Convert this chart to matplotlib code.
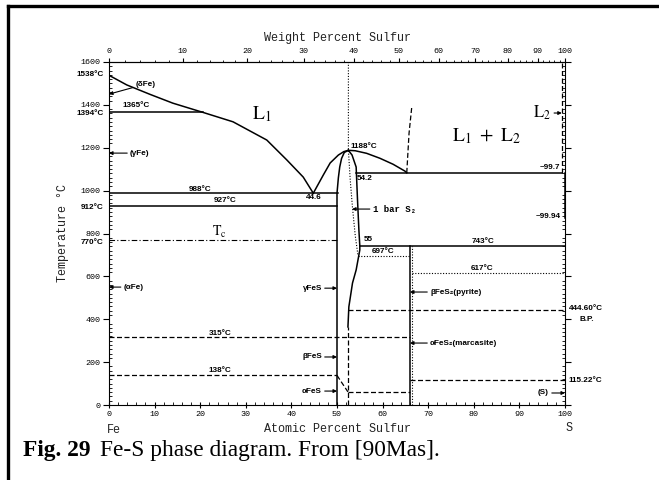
import numpy as np
import matplotlib.pyplot as plt
from matplotlib.lines import Line2D
from matplotlib.ticker import MultipleLocator

plt.rcParams['mathtext.fontset'] = 'stix'

# composition in atomic % S, temperature in degC
liq_fe_x = [0, 3.9, 9.0, 14.0, 20.6, 27.2, 34.6, 39.0, 42.6, 44.8]
liq_fe_t = [1538, 1493, 1449, 1408, 1365, 1321, 1236, 1143, 1063, 988]
liq_fesl_x = [44.8, 47.0, 48.5, 50.3, 51.5, 52.5]
liq_fesl_t = [988, 1073, 1129, 1166, 1182, 1188]
liq_fesr_x = [52.5, 54.0, 56.5, 59.4, 62.3, 64.9, 65.3]
liq_fesr_t = [1188, 1186, 1174, 1151, 1123, 1091, 1083]
fes_left_x = [50.0, 50.0, 50.3, 50.6, 51.0, 51.6, 52.5]
fes_left_t = [0, 988, 1060, 1110, 1150, 1178, 1188]
fes_right_x = [52.5, 53.3, 54.2, 54.5, 54.8, 55.0, 55.0, 54.2, 53.4, 52.6, 52.4]
fes_right_t = [1188, 1166, 1110, 956, 816, 743, 723, 630, 569, 458, 364]
bar_x = [52.5, 52.5, 52.9, 53.4, 54.0, 54.6]
bar_t = [1600, 1188, 1050, 920, 790, 697]
gap_x = [65.3, 65.5, 65.8, 66.4]
gap_t = [1083, 1158, 1268, 1391]

# horizontal invariants: temperature, from, to, style
iso_t = [1365, 988, 927, 1083, 743, 770, 315, 138, 61, 444.6, 115.22, 697, 617]
iso_x0 = [0, 0, 0, 54.2, 55, 0, 0, 0, 52.4, 52.4, 66, 54.6, 66.5]
iso_x1 = [20.6, 50.2, 50, 99.3, 100, 50, 66, 50, 66, 100, 100, 66, 100]
iso_ls = ['-', '-', '-', '-', '-', '-.', '--', '--', '--', '--', '--', ':', ':']

# vertical lines: x, from, to, style
vert_x = [66.0, 66.5, 52.4, 99.3, 99.9]
vert_t0 = [0, 0, 0, 1083, 870]
vert_t1 = [743, 743, 364, 1600, 1083]
vert_ls = ['-', ':', '--', '--', '-']

diag_x = [50, 52.4]
diag_t = [138, 61]


def at2wt(a):
    a = np.clip(np.asarray(a, float), 0, 100)
    return 100 * a * 32.06 / (a * 32.06 + (100 - a) * 55.845)


def wt2at(w):
    w = np.clip(np.asarray(w, float), 0, 100)
    return 100 * (w / 32.06) / (w / 32.06 + (100 - w) / 55.845)


fig = plt.figure(figsize=(6.59, 4.8), dpi=100)
ax = fig.add_axes([109 / 659, 1 - 405 / 480, 456 / 659, 343 / 480])
ax.set_xlim(0, 100)
ax.set_ylim(0, 1600)

dash = {'-': dict(ls='-', lw=1.1), '--': dict(ls=(0, (4, 2)), lw=0.9),
        ':': dict(ls=(0, (1, 1.5)), lw=0.8), '-.': dict(ls=(0, (5, 2, 1, 2)), lw=0.8)}

for xs, ts in [(liq_fe_x, liq_fe_t), (liq_fesl_x, liq_fesl_t), (liq_fesr_x, liq_fesr_t),
               (fes_left_x, fes_left_t), (fes_right_x, fes_right_t)]:
    ax.plot(xs, ts, color='black', lw=1.1)
ax.plot(bar_x, bar_t, color='black', **dash[':'])
ax.plot(gap_x, gap_t, color='black', **dash['--'])
ax.plot(diag_x, diag_t, color='black', **dash['--'])
for t, x0, x1, s in zip(iso_t, iso_x0, iso_x1, iso_ls):
    ax.plot([x0, x1], [t, t], color='black', **dash[s])
for x, t0, t1, s in zip(vert_x, vert_t0, vert_t1, vert_ls):
    ax.plot([x, x], [t0, t1], color='black', **dash[s])

# axes / ticks
for sp in ax.spines.values():
    sp.set_linewidth(0.8)
ax.xaxis.set_major_locator(MultipleLocator(10))
ax.xaxis.set_minor_locator(MultipleLocator(2))
ax.yaxis.set_major_locator(MultipleLocator(200))
ax.yaxis.set_minor_locator(MultipleLocator(20))
ax.tick_params(which='major', direction='inout', length=5, width=0.8,
               labelsize=6, pad=2, right=True)
ax.tick_params(which='minor', direction='in', length=2, width=0.6, right=True)
ax.tick_params(axis='y', which='major', direction='out', length=4)
for lab in ax.get_xticklabels() + ax.get_yticklabels():
    lab.set_family('Liberation Mono')

secax = ax.secondary_xaxis('top', functions=(at2wt, wt2at))
secax.set_xticks(np.arange(0, 101, 10))
secax.set_xticks(np.arange(0, 101, 2), minor=True)
secax.tick_params(which='major', direction='out', length=3, width=0.8, labelsize=6, pad=2)
secax.tick_params(which='minor', direction='out', length=1.5, width=0.6)
secax.spines['top'].set_linewidth(0.8)
for lab in secax.get_xticklabels():
    lab.set_family('Liberation Mono')

mono = dict(family='Liberation Mono', fontsize=8.5, color='#222222')
ax.text(0.5, 1 + (62 - 38) / 343, 'Weight Percent Sulfur', transform=ax.transAxes,
        ha='center', va='center', **mono)
ax.text(0.5, -(429 - 405) / 343, 'Atomic Percent Sulfur', transform=ax.transAxes,
        ha='center', va='center', **mono)
ax.text(-(109 - 63) / 456, 0.5, 'Temperature °C', transform=ax.transAxes, rotation=90,
        ha='center', va='center', **mono)
ax.text((114 - 109) / 456, -(430 - 405) / 343, 'Fe', transform=ax.transAxes,
        ha='center', va='center', **mono)
ax.text((569 - 109) / 456, -(428 - 405) / 343, 'S', transform=ax.transAxes,
        ha='center', va='center', **mono)

# labels
bold = dict(family=['Liberation Sans', 'DejaVu Sans'], fontsize=5.9, fontweight='bold')
lbl = [('1538°C', -1.2, 1544, 'right'), ('1394°C', -1.2, 1358, 'right'),
       ('912°C', -1.2, 919, 'right'), ('770°C', -1.2, 760, 'right'),
       ('1365°C', 6.0, 1395, 'center'), ('988°C', 20.0, 1005, 'center'),
       ('927°C', 25.4, 952, 'center'), ('44.6', 45.0, 970, 'center'),
       ('1188°C', 53.0, 1208, 'left'), ('54.2', 54.3, 1058, 'left'),
       ('55', 55.8, 770, 'left'), ('743°C', 82.0, 762, 'center'),
       ('697°C', 60.2, 716, 'center'), ('617°C', 81.8, 636, 'center'),
       ('315°C', 24.3, 333, 'center'), ('138°C', 24.3, 163, 'center'),
       ('~99.7', 99.0, 1108, 'right'), ('~99.94', 99.0, 877, 'right'),
       ('444.60°C', 100.8, 448, 'left'), ('B.P.', 104.8, 398, 'center'),
       ('115.22°C', 100.8, 116, 'left')]
for s, x, t, ha in lbl:
    ax.text(x, t, s, ha=ha, va='center', clip_on=False, **bold)

ax.text(24.3, 805, r'$\mathrm{T_c}$', ha='center', va='center', fontsize=10)
ax.text(33.6, 1355, r'$\mathrm{L_1}$', ha='center', va='center', fontsize=14)
ax.text(82.9, 1255, r'$\mathrm{L_1\ +\ L_2}$', ha='center', va='center', fontsize=14)

arrow = dict(arrowstyle='-|>', lw=0.8, color='black', mutation_scale=5,
             shrinkA=0, shrinkB=0)
arr = [('(δFe)', 5.8, 1497, 0, 1450, 'left'), ('(γFe)', 4.6, 1175, 0, 1175, 'left'),
       ('(αFe)', 3.2, 550, 0, 550, 'left'),
       ('γFeS', 46.7, 545, 50, 545, 'right'), ('βFeS', 46.7, 224, 50, 224, 'right'),
       ('αFeS', 46.7, 65, 50, 65, 'right'),
       ('βFeS₂(pyrite)', 70.4, 527, 66, 527, 'left'),
       ('αFeS₂(marcasite)', 70.4, 289, 66, 289, 'left'),
       ('(S)', 96.5, 56, 100, 56, 'right')]
for s, x, t, xa, ta, ha in arr:
    ax.annotate(s, xy=(xa, ta), xytext=(x, t), ha=ha, va='center',
                arrowprops=arrow, **bold)
ax.annotate('1 bar S₂', xy=(53.3, 914), xytext=(57.8, 914), ha='left', va='center',
            family=['Liberation Mono', 'DejaVu Sans Mono'], fontsize=6.5, fontweight='bold',
            arrowprops=arrow)
ax.annotate(r'$\mathrm{L_2}$', xy=(99.3, 1362), xytext=(97.0, 1362), ha='right',
            va='center', fontsize=12, arrowprops=arrow)

# frame and caption
fig.add_artist(Line2D([8 / 659, 8 / 659], [0, 1 - 6 / 480], color='black', lw=2.4))
fig.add_artist(Line2D([8 / 659, 1], [1 - 6 / 480, 1 - 6 / 480], color='black', lw=2.4))
cap = fig.text(23 / 659, 1 - 456 / 480, 'Fig. 29', family='Liberation Serif',
               fontweight='bold', fontsize=16.8, va='baseline')
ax.annotate('Fe-S phase diagram. From [90Mas].', xy=(1, 0), xycoords=cap,
            xytext=(7, 0), textcoords='offset points', va='bottom',
            family='Liberation Serif', fontsize=16.8)

plt.savefig('out.png', dpi=100)
